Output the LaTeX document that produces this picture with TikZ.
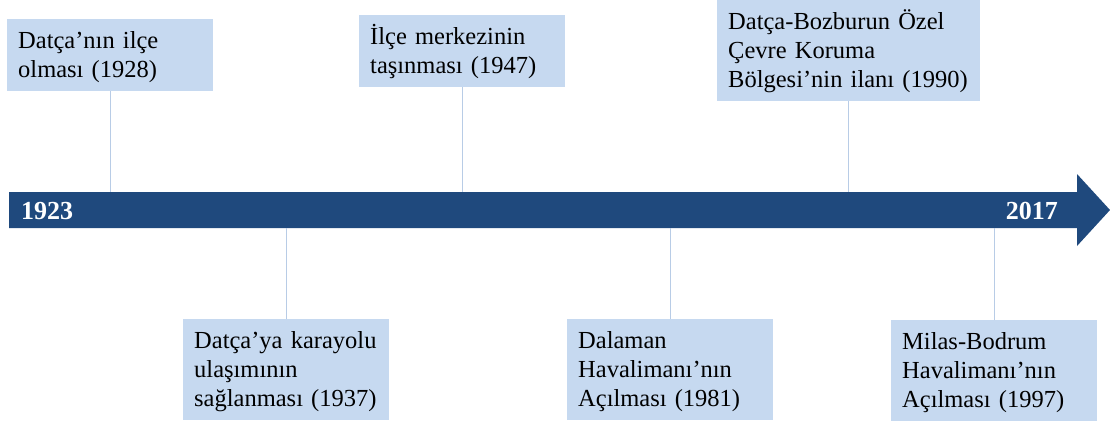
\documentclass[tikz,border=0pt]{standalone}
\usepackage{fontspec}
\setmainfont{Liberation Serif}
\usepackage{tikz}
\usetikzlibrary{positioning}

\definecolor{arrowblue}{RGB}{31,73,125}
\definecolor{boxblue}{RGB}{198,217,240}
\definecolor{tickblue}{RGB}{184,204,230}

\begin{document}
\begin{tikzpicture}[x=1pt, y=-1pt,
    event/.style={fill=boxblue, anchor=north west, align=left,
      text width=184pt, inner xsep=11pt, inner ysep=6.5pt,
      font=\fontsize{24.5}{29}\selectfont,
      execute at begin node={\rule{0pt}{23pt}},
      execute at end node={\rule[-7pt]{0pt}{7pt}}},
    wide/.style={text width=241pt},
    tick/.style={draw=tickblue, line width=0.9pt},
    year/.style={text=white, inner sep=0pt, font=\fontsize{26}{30}\selectfont\bfseries}]
  \useasboundingbox (0,0) rectangle (1110,421);

  % Define edges of the time bar
  \coordinate (bartop) at (0,192);
  \coordinate (barbot) at (0,228);

  % Time bar with arrow head
  \fill[arrowblue] (9,192) -- (1077,192) -- (1077,174) -- (1110,210)
    -- (1077,246) -- (1077,228) -- (9,228) -- cycle;

  % End years
  \node[year, anchor=base west] (y1923) at (21,219) {1923};
  \node[year, anchor=base east] (y2017) at (1058,219) {2017};

  % Events above the bar
  \node[event] (b1928) at (7,19) {Datça’nın ilçe\\olması (1928)};
  \node[event] (b1947) at (359,15) {İlçe merkezinin\\taşınması (1947)};
  \node[event, wide] (b1990) at (717,0) {Datça-Bozburun Özel\\Çevre Koruma\\Bölgesi’nin ilanı (1990)};

  % Events below the bar
  \node[event] (b1937) at (183,319) {Datça’ya karayolu\\ulaşımının\\sağlanması (1937)};
  \node[event] (b1981) at (567,319) {Dalaman\\Havalimanı’nın\\Açılması (1981)};
  \node[event] (b1997) at (891,320) {Milas-Bodrum\\Havalimanı’nın\\Açılması (1997)};

  % Connectors to the bar
  \foreach \e in {b1928,b1947,b1990}
    \draw[tick] (\e.south) -- (\e.south |- bartop);
  \foreach \e in {b1937,b1981,b1997}
    \draw[tick] (\e.north) -- (\e.north |- barbot);
\end{tikzpicture}
\end{document}
